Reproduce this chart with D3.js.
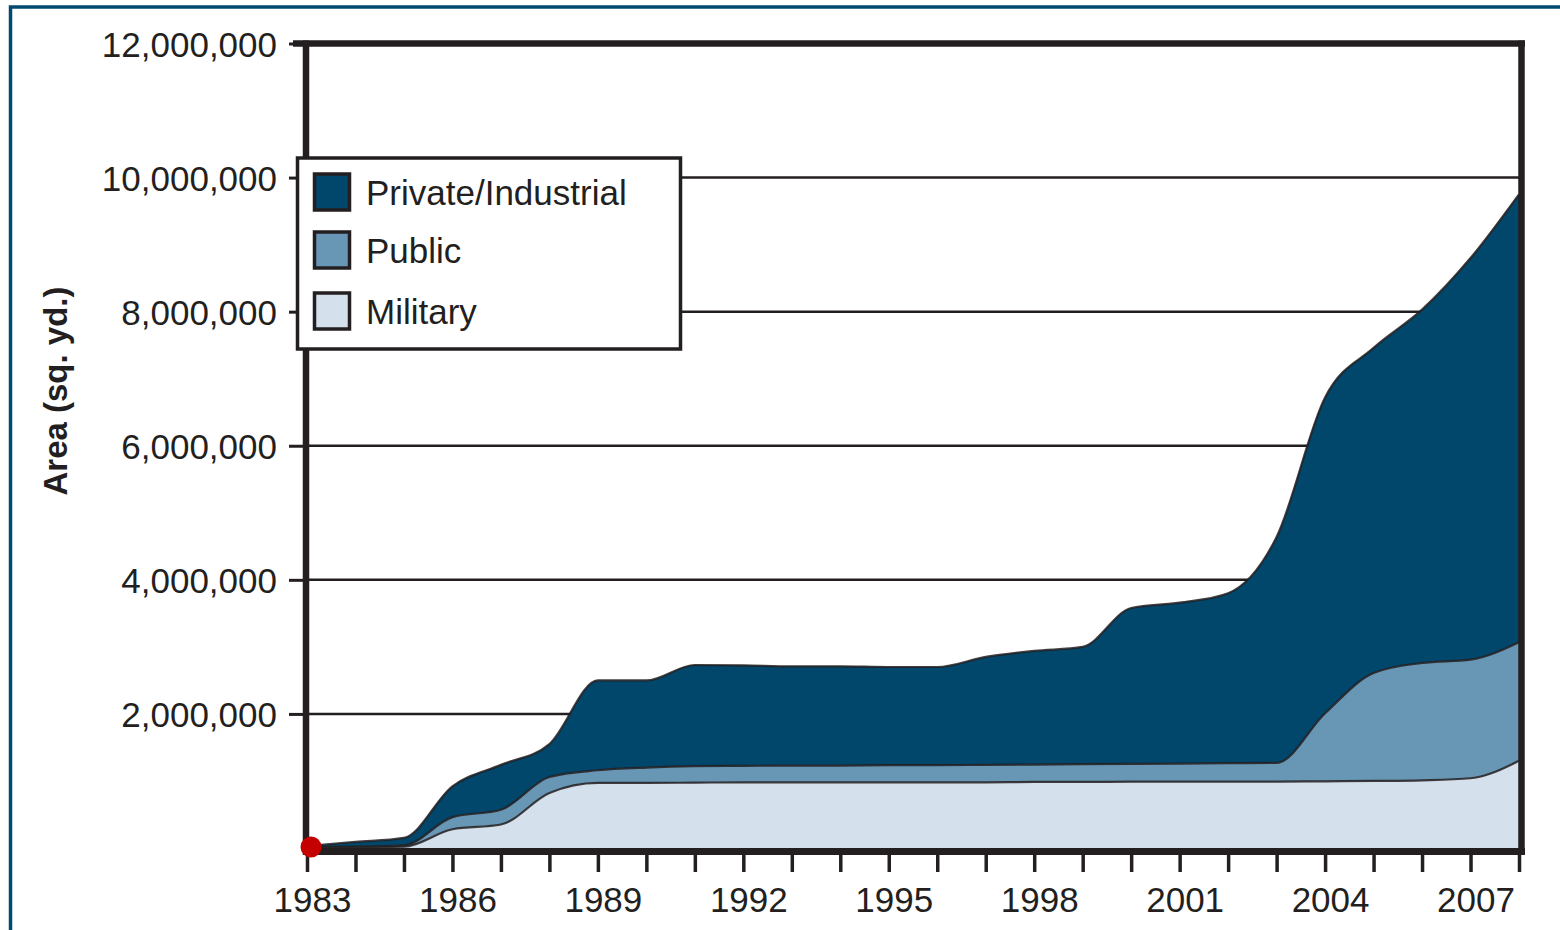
<!DOCTYPE html>
<html>
<head>
<meta charset="utf-8">
<script src="https://cdn.jsdelivr.net/npm/d3@7"></script>
<style>
  html, body { margin: 0; padding: 0; background: #fff; }
  svg { display: block; }
</style>
</head>
<body>
<svg id="chart" width="1560" height="930"></svg>
<script>
// ---- data ----
const years = [1983,1984,1985,1986,1987,1988,1989,1990,1991,1992,1993,1994,1995,1996,1997,1998,1999,2000,2001,2002,2003,2004,2005,2006,2007,2008];
const military = [10000,10000,20000,280000,350000,820000,970000,970000,975000,980000,980000,980000,980000,980000,980000,985000,985000,990000,990000,990000,990000,995000,1000000,1010000,1040000,1300000];
const publicArea = [5000,10000,20000,180000,220000,240000,190000,230000,245000,245000,250000,250000,255000,255000,260000,260000,265000,265000,270000,275000,280000,1015000,1610000,1750000,1770000,1770000];
const privateArea = [15000,70000,110000,460000,670000,490000,1340000,1300000,1510000,1500000,1480000,1480000,1465000,1465000,1610000,1695000,1750000,2325000,2400000,2535000,3370000,4710000,4850000,5270000,5990000,6680000];
const seriesNames = ["Military","Public","Private/Industrial"];
const seriesColors = ["#d4e0eb","#6897b6","#01466b"];
const legendOrder = ["Private/Industrial","Public","Military"];
const yTicks = [2000000,4000000,6000000,8000000,10000000,12000000];
const xTickYears = d3.range(1983, 2009);
const xLabelYears = [1983,1986,1989,1992,1995,1998,2001,2004,2007];
const yTitle = "Area (sq. yd.)";

// ---- layout ----
const svg = d3.select("#chart");
const ink = "#231f20";
const x = d3.scaleLinear().domain([1983, 2008]).range([307, 1519]);
const y = d3.scaleLinear().domain([0, 12000000]).range([848, 43.5]);
const font = "'Liberation Sans', Arial, sans-serif";

// outer frame
svg.append("rect").attr("x", 10.5).attr("y", 7).attr("width", 1600).attr("height", 1000)
  .attr("fill", "none").attr("stroke", "#004a70").attr("stroke-width", 3.5);

// gridlines
svg.append("g").selectAll("line").data(yTicks.slice(0, -1)).join("line")
  .attr("x1", x(1983)).attr("x2", x(2008))
  .attr("y1", d => y(d)).attr("y2", d => y(d))
  .attr("stroke", ink).attr("stroke-width", 2.5);

// stacked areas
const table = years.map((yr, i) => ({ year: yr, "Military": military[i], "Public": publicArea[i], "Private/Industrial": privateArea[i] }));
const stack = d3.stack().keys(seriesNames)(table);
const curve = d3.curveMonotoneX;
const area = d3.area().x(d => x(d.data.year)).y0(d => y(d[0])).y1(d => y(d[1])).curve(curve);
const line = d3.line().x(d => x(d.data.year)).y(d => y(d[1])).curve(curve);

svg.append("g").selectAll("path").data(stack).join("path")
  .attr("d", area).attr("fill", (d, i) => seriesColors[i]);
svg.append("g").selectAll("path").data(stack).join("path")
  .attr("d", line).attr("fill", "none").attr("stroke", ink).attr("stroke-width", 2.2).attr("opacity", 0.85);

// frame of the plot
svg.append("line").attr("x1", x(1983) - 14).attr("x2", x(2008) + 6).attr("y1", y(12000000)).attr("y2", y(12000000))
  .attr("stroke", ink).attr("stroke-width", 6.5);
svg.append("line").attr("x1", 306).attr("x2", 306).attr("y1", y(12000000) - 3).attr("y2", 855)
  .attr("stroke", ink).attr("stroke-width", 6.5);
svg.append("line").attr("x1", 1521.5).attr("x2", 1521.5).attr("y1", y(12000000) - 3).attr("y2", 855)
  .attr("stroke", ink).attr("stroke-width", 6.5);
svg.append("line").attr("x1", 303).attr("x2", 1525).attr("y1", 851.5).attr("y2", 851.5)
  .attr("stroke", ink).attr("stroke-width", 7);

// y axis ticks + labels
const yAxis = d3.axisLeft(y).tickValues(yTicks).tickSize(14).tickPadding(14)
  .tickFormat(d3.format(","));
const gy = svg.append("g").attr("transform", "translate(303,0)").call(yAxis);
gy.select(".domain").remove();
gy.selectAll(".tick line").attr("stroke", ink).attr("stroke-width", 3);
gy.selectAll(".tick text").attr("fill", ink).style("font-family", font).style("font-size", "35px")
  .attr("dy", "0.36em").attr("x", -26);

// x axis ticks + labels
const xAxis = d3.axisBottom(x).tickValues(xTickYears).tickSize(17).tickPadding(0)
  .tickFormat(d => xLabelYears.includes(d) ? String(d) : "");
const gx = svg.append("g").attr("transform", "translate(0,855)").call(xAxis);
gx.select(".domain").remove();
gx.selectAll(".tick line").attr("stroke", ink).attr("stroke-width", 3.5);
gx.selectAll(".tick text").attr("fill", ink).style("font-family", font).style("font-size", "35px")
  .attr("y", 57).attr("dy", 0).attr("dx", 5);

// y title
svg.append("text").attr("transform", "translate(67,391) rotate(-90)")
  .attr("text-anchor", "middle").attr("fill", ink)
  .style("font-family", font).style("font-size", "33px").style("font-weight", "bold")
  .text(yTitle);

// red dot
svg.append("circle").attr("cx", x(1983) + 4).attr("cy", 847).attr("r", 10.5).attr("fill", "#c40000");

// legend
const lg = svg.append("g");
lg.append("rect").attr("x", 297.5).attr("y", 158).attr("width", 383).attr("height", 191)
  .attr("fill", "#fff").attr("stroke", ink).attr("stroke-width", 3.5);
const legendY = [192, 250, 311];
legendOrder.forEach((name, i) => {
  const ci = seriesNames.indexOf(name);
  lg.append("rect").attr("x", 314.5).attr("y", legendY[i] - 18).attr("width", 35).attr("height", 36)
    .attr("fill", seriesColors[ci]).attr("stroke", ink).attr("stroke-width", 3.5);
  lg.append("text").attr("x", 366).attr("y", legendY[i]).attr("dy", "0.36em")
    .attr("fill", ink).style("font-family", font).style("font-size", "35px").text(name);
});
</script>
</body>
</html>
